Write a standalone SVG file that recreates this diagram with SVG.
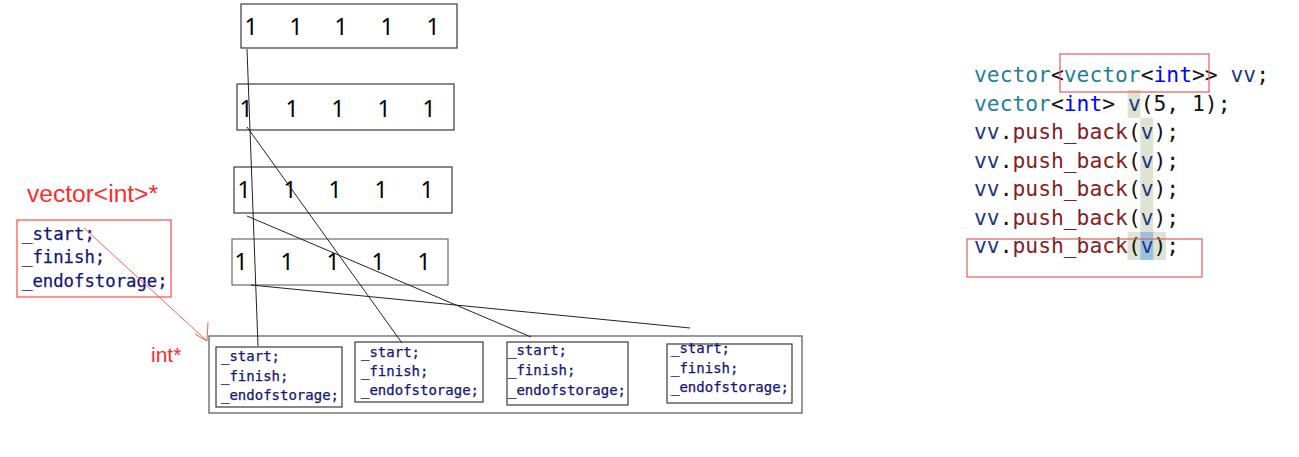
<svg xmlns="http://www.w3.org/2000/svg" width="1299" height="457" viewBox="0 0 1299 457">
<style>
.box{fill:none;stroke:#3a3a3a;stroke-width:1.2}
.dig{font-family:"Noto Sans","Open Sans",sans-serif;font-size:23px;fill:#000;text-anchor:middle}
.sm{font-family:"DejaVu Sans Mono","Liberation Mono",monospace;font-size:14px;fill:#141478;stroke:#141478;stroke-width:0.25}
.lg{font-family:"DejaVu Sans Mono","Liberation Mono",monospace;font-size:17.3px;fill:#141478;stroke:#141478;stroke-width:0.25}
.red{font-family:"Liberation Sans","Noto Sans",sans-serif;fill:#ff2b2b}
.rbox{fill:none;stroke:#ff4a4a;stroke-width:1.2}
.code{font-family:"DejaVu Sans Mono","Liberation Mono",monospace;font-size:21.3px;fill:#111}
.ty{fill:#267f99}.kw{fill:#0000ff}.var{fill:#1f377f}.fn{fill:#861c1c}
.conn{stroke:#222;stroke-width:1;fill:none}
</style>
<rect width="1299" height="457" fill="#fff"/>

<g id="row1">
<rect class="box" x="241" y="4" width="216" height="44"/>
<text class="dig" y="35"><tspan x="251">1</tspan><tspan x="296">1</tspan><tspan x="341">1</tspan><tspan x="387">1</tspan><tspan x="433">1</tspan></text>
</g>
<g id="row2">
<rect class="box" x="237" y="84" width="217" height="46"/>
<text class="dig" y="117"><tspan x="246">1</tspan><tspan x="292">1</tspan><tspan x="338">1</tspan><tspan x="384">1</tspan><tspan x="429">1</tspan></text>
</g>
<g id="row3">
<rect class="box" x="234" y="167" width="218" height="46"/>
<text class="dig" y="198"><tspan x="244">1</tspan><tspan x="290">1</tspan><tspan x="335">1</tspan><tspan x="381">1</tspan><tspan x="427">1</tspan></text>
</g>
<g id="row4">
<rect class="box" x="232" y="239" width="216" height="46" style="stroke:#6a6a6a"/>
<text class="dig" y="270"><tspan x="241">1</tspan><tspan x="287">1</tspan><tspan x="333">1</tspan><tspan x="378">1</tspan><tspan x="424">1</tspan></text>
</g>

<g id="outer-vector">
<rect class="box" x="209" y="336" width="593" height="77" style="stroke:#555"/>
</g>
<g id="elem1">
<rect class="box" x="216" y="347" width="126" height="60"/>
<text class="sm"><tspan x="221" y="361">_start;</tspan><tspan x="221" y="381">_finish;</tspan><tspan x="221" y="400">_endofstorage;</tspan></text>
</g>
<g id="elem2">
<rect class="box" x="355" y="342" width="128" height="60"/>
<text class="sm"><tspan x="361" y="357">_start;</tspan><tspan x="361" y="376">_finish;</tspan><tspan x="361" y="395">_endofstorage;</tspan></text>
</g>
<g id="elem3">
<rect class="box" x="507" y="342" width="121" height="63"/>
<text class="sm"><tspan x="508" y="355">_start;</tspan><tspan x="508" y="375">_finish;</tspan><tspan x="508" y="395">_endofstorage;</tspan></text>
</g>
<g id="elem4">
<rect class="box" x="667" y="344" width="125" height="59"/>
<text class="sm"><tspan x="671" y="353">_start;</tspan><tspan x="671" y="373">_finish;</tspan><tspan x="671" y="392">_endofstorage;</tspan></text>
</g>

<g id="struct">
<text class="red" x="27" y="202" font-size="23" textLength="131" lengthAdjust="spacingAndGlyphs">vector&lt;int&gt;*</text>
<rect class="rbox" x="17" y="220" width="154" height="77"/>
<text class="lg"><tspan x="22" y="240">_start;</tspan><tspan x="22" y="263">_finish;</tspan><tspan x="22" y="287">_endofstorage;</tspan></text>
</g>
<g id="int-label">
<text class="red" x="151" y="362" font-size="21">int*</text>
</g>

<g id="connectors">
<line class="conn" x1="247" y1="49" x2="258" y2="346"/>
<line class="conn" x1="247" y1="127" x2="402" y2="343"/>
<line class="conn" x1="247" y1="216" x2="531" y2="337"/>
<line class="conn" x1="251" y1="285" x2="690" y2="328"/>
<line x1="84" y1="228" x2="207" y2="341" stroke="#ff4a4a" stroke-width="0.9"/>
<polyline points="195,334 207,341 208,322" fill="none" stroke="#ff4a4a" stroke-width="0.9"/>
</g>

<g id="code">
<rect x="1127.6" y="90" width="12.8" height="28" fill="#dfe3d3"/>
<rect x="1140.4" y="118" width="12.8" height="114" fill="#dfe3d3"/>
<rect x="1127.6" y="232" width="38.4" height="28" fill="#dfe3d3"/>
<rect x="1140.4" y="232" width="12.8" height="28" fill="#98c0e0"/>
<g class="code" xml:space="preserve" style="white-space:pre">
<text x="974" y="82"><tspan class="ty">vector</tspan>&lt;<tspan class="ty">vector</tspan>&lt;<tspan class="kw">int</tspan>&gt;&gt; <tspan class="var">vv</tspan>;</text>
<text x="974" y="110.5"><tspan class="ty">vector</tspan>&lt;<tspan class="kw">int</tspan>&gt; <tspan class="var">v</tspan>(5, 1);</text>
<text x="974" y="139"><tspan class="var">vv</tspan>.<tspan class="fn">push_back</tspan>(<tspan class="var">v</tspan>);</text>
<text x="974" y="167.5"><tspan class="var">vv</tspan>.<tspan class="fn">push_back</tspan>(<tspan class="var">v</tspan>);</text>
<text x="974" y="196"><tspan class="var">vv</tspan>.<tspan class="fn">push_back</tspan>(<tspan class="var">v</tspan>);</text>
<text x="974" y="224.5"><tspan class="var">vv</tspan>.<tspan class="fn">push_back</tspan>(<tspan class="var">v</tspan>);</text>
<text x="974" y="253"><tspan class="var">vv</tspan>.<tspan class="fn">push_back</tspan>(<tspan class="var">v</tspan>);</text>
</g>
<rect class="rbox" x="1060" y="54" width="149" height="38" style="stroke:#e85a5a"/>
<rect class="rbox" x="967" y="239" width="235" height="38" style="stroke:#e85a5a"/>
</g>
</svg>
